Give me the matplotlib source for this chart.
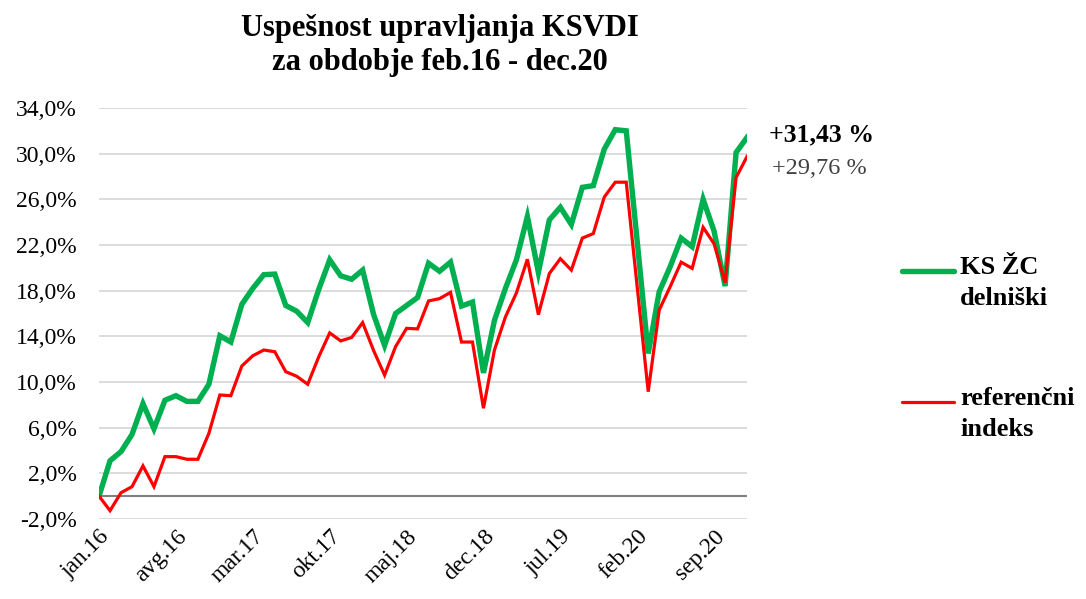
import matplotlib.pyplot as plt
from matplotlib.lines import Line2D
from matplotlib.ticker import FuncFormatter

plt.rcParams['font.family'] = ['Liberation Serif', 'DejaVu Serif']

# mesečne oznake jan.16 - dec.20
mesci = ['jan', 'feb', 'mar', 'apr', 'maj', 'jun', 'jul', 'avg', 'sep', 'okt', 'nov', 'dec']
leta = ['16', '17', '18', '19', '20']
oznake = [m + '.' + l for l in leta for m in mesci]

# donosnost KS ŽC delniški (%)
kszc = [0.0, 3.1, 3.9, 5.4, 8.1, 5.9, 8.4, 8.8, 8.3, 8.3,
        9.8, 14.05, 13.5, 16.8, 18.2, 19.4, 19.45, 16.7, 16.2, 15.2,
        18.1, 20.7, 19.3, 19.0, 19.8, 15.9, 13.2, 16.0, 16.7, 17.4,
        20.4, 19.7, 20.5, 16.65, 17.0, 10.8, 15.4, 18.2, 20.7, 24.5,
        19.6, 24.2, 25.3, 23.8, 27.05, 27.2, 30.4, 32.1, 32.0, 22.3,
        12.5, 17.9, 20.1, 22.6, 21.85, 26.0, 23.2, 18.4, 30.1, 31.43]

# referenčni indeks (%)
ref = [0.0, -1.27, 0.3, 0.83, 2.65, 0.83, 3.46, 3.46, 3.23, 3.23,
       5.5, 8.86, 8.8, 11.4, 12.3, 12.8, 12.65, 10.9, 10.5, 9.8,
       12.2, 14.3, 13.6, 13.9, 15.2, 12.75, 10.6, 13.1, 14.7, 14.65,
       17.1, 17.3, 17.85, 13.5, 13.5, 7.7, 12.8, 15.7, 17.8, 20.75,
       15.9, 19.5, 20.8, 19.8, 22.6, 23.0, 26.2, 27.5, 27.5, 18.3,
       9.15, 16.3, 18.35, 20.5, 19.95, 23.55, 22.1, 18.7, 27.9, 29.76]

zelena = '#00b050'
rdeca = '#ff0000'

fig = plt.figure(figsize=(10.86, 5.99), dpi=100)
ax = fig.add_axes([0.0912, 0.1336, 0.5967, 0.6861])

x = list(range(len(oznake)))
ax.plot(x, kszc, color=zelena, lw=3.9, solid_joinstyle='miter', zorder=4)
ax.plot(x, ref, color=rdeca, lw=2.3, solid_joinstyle='miter', zorder=5)

ax.set_xlim(0, len(oznake) - 1)
ax.set_ylim(-2, 34)
ax.set_yticks([-2 + 4 * i for i in range(10)])
ax.yaxis.set_major_formatter(FuncFormatter(lambda v, p: f'{v:.1f}%'.replace('.', ',')))
ax.grid(axis='y', color='#d9d9d9', lw=1.3)
ax.axhline(0, color='#808080', lw=1.5, zorder=3)
for s in ax.spines.values():
    s.set_visible(False)

ax.set_xticks(x[::7])
ax.set_xticklabels(oznake[::7], rotation=45, ha='right', rotation_mode='anchor')
ax.tick_params(axis='both', length=0, labelsize=17)
ax.tick_params(axis='y', pad=16)
ax.tick_params(axis='x', pad=5)

fig.text(0.405, 0.977, 'Uspešnost upravljanja KSVDI\nza obdobje feb.16 - dec.20',
         ha='center', va='top', fontsize=22, fontweight='bold', linespacing=1.25)

ax.annotate('+31,43 %', xy=(x[-1], kszc[-1]), xytext=(16, 2), textcoords='offset points',
            ha='left', va='center', fontsize=18.5, fontweight='bold', annotation_clip=False)
ax.annotate('+29,76 %', xy=(x[-1], ref[-1]), xytext=(18, -9), textcoords='offset points',
            ha='left', va='center', fontsize=17.5, color='#404040', annotation_clip=False)

# legenda
fig.add_artist(Line2D([0.831, 0.878], [1 - 271 / 599] * 2, color=zelena, lw=3.9,
                      solid_capstyle='round'))
fig.add_artist(Line2D([0.831, 0.878], [1 - 402 / 599] * 2, color=rdeca, lw=2.3,
                      solid_capstyle='round'))
fig.text(0.884, 1 - 256 / 599, 'KS ŽC\ndelniški', ha='left', va='top',
         fontsize=19, fontweight='bold', linespacing=1.45)
fig.text(0.884, 1 - 387 / 599, 'referenčni\nindeks', ha='left', va='top',
         fontsize=19, fontweight='bold', linespacing=1.45)

fig.savefig('out.png', dpi=100)
